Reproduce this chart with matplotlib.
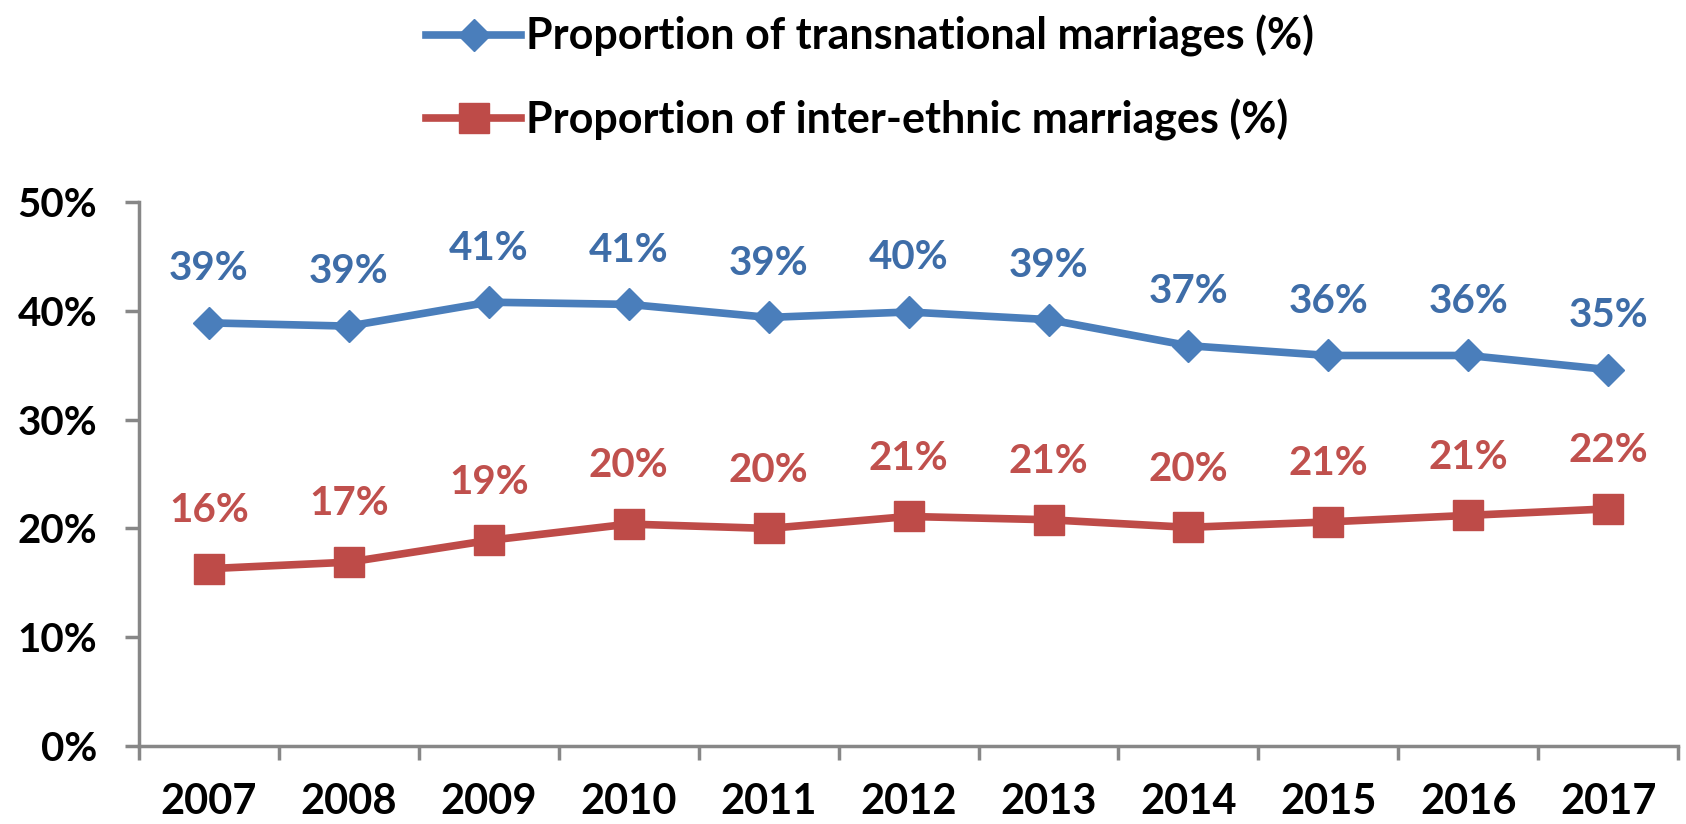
import matplotlib
matplotlib.use("Agg")
import matplotlib.pyplot as plt
from matplotlib.ticker import FixedLocator, FuncFormatter

plt.rcParams['font.family'] = ['Lato', 'DejaVu Sans']
plt.rcParams['font.weight'] = 'bold'

years = ["2007", "2008", "2009", "2010", "2011", "2012",
         "2013", "2014", "2015", "2016", "2017"]
transnational = [38.9, 38.6, 40.8, 40.6, 39.4, 39.9, 39.2, 36.8, 35.9, 35.9, 34.6]
interethnic = [16.3, 16.9, 18.9, 20.4, 20.0, 21.1, 20.8, 20.1, 20.6, 21.2, 21.8]

blue = "#4A7EBB"
blue_txt = "#3E6DA8"
red = "#BE4B48"
red_txt = "#C0504D"
grey = "#878787"

fig = plt.figure(figsize=(16.86, 8.24), dpi=100)
ax = fig.add_axes([0.0824, 0.0947, 0.913, 0.660])

x = list(range(len(years)))
ax.plot(x, transnational, color=blue, lw=5.5, marker='D', ms=16,
        mec=blue, mfc=blue, label="Proportion of transnational marriages (%)")
ax.plot(x, interethnic, color=red, lw=5.5, marker='s', ms=21,
        mec=red, mfc=red, label="Proportion of inter-ethnic marriages (%)")

for i, v in enumerate(transnational):
    ax.annotate(f"{round(v)}%", (i, v), xytext=(0, 39), textcoords='offset points',
                ha='center', va='center', fontsize=29, color=blue_txt, fontweight='bold')
for i, v in enumerate(interethnic):
    ax.annotate(f"{round(v)}%", (i, v), xytext=(0, 42), textcoords='offset points',
                ha='center', va='center', fontsize=29, color=red_txt, fontweight='bold')

ax.set_xlim(-0.5, len(years) - 0.5)
ax.set_ylim(0, 50)
ax.yaxis.set_major_locator(FixedLocator([0, 10, 20, 30, 40, 50]))
ax.yaxis.set_major_formatter(FuncFormatter(lambda v, p: f"{int(v)}%"))
ax.set_xticks(x)
ax.set_xticklabels(years)
ax.set_xticks([i - 0.5 for i in range(len(years) + 1)], minor=True)
ax.tick_params(axis='x', which='major', length=0, pad=27, labelsize=30)
ax.tick_params(axis='x', which='minor', length=10, width=2.5, color=grey, direction='out')
ax.tick_params(axis='y', length=10, width=2.5, color=grey, direction='out',
               labelsize=29, pad=20)
for lab in ax.get_xticklabels() + ax.get_yticklabels():
    lab.set_fontweight('bold')

for s in ['top', 'right']:
    ax.spines[s].set_visible(False)
for s in ['left', 'bottom']:
    ax.spines[s].set_color(grey)
    ax.spines[s].set_linewidth(2.5)

fig.legend(loc='upper left', bbox_to_anchor=(0.235, 1.018), frameon=False,
           handlelength=2.2, handletextpad=0.12, labelspacing=0.95,
           borderpad=0.2, prop={'weight': 'bold', 'size': 31})

fig.savefig("out.png", dpi=100)
